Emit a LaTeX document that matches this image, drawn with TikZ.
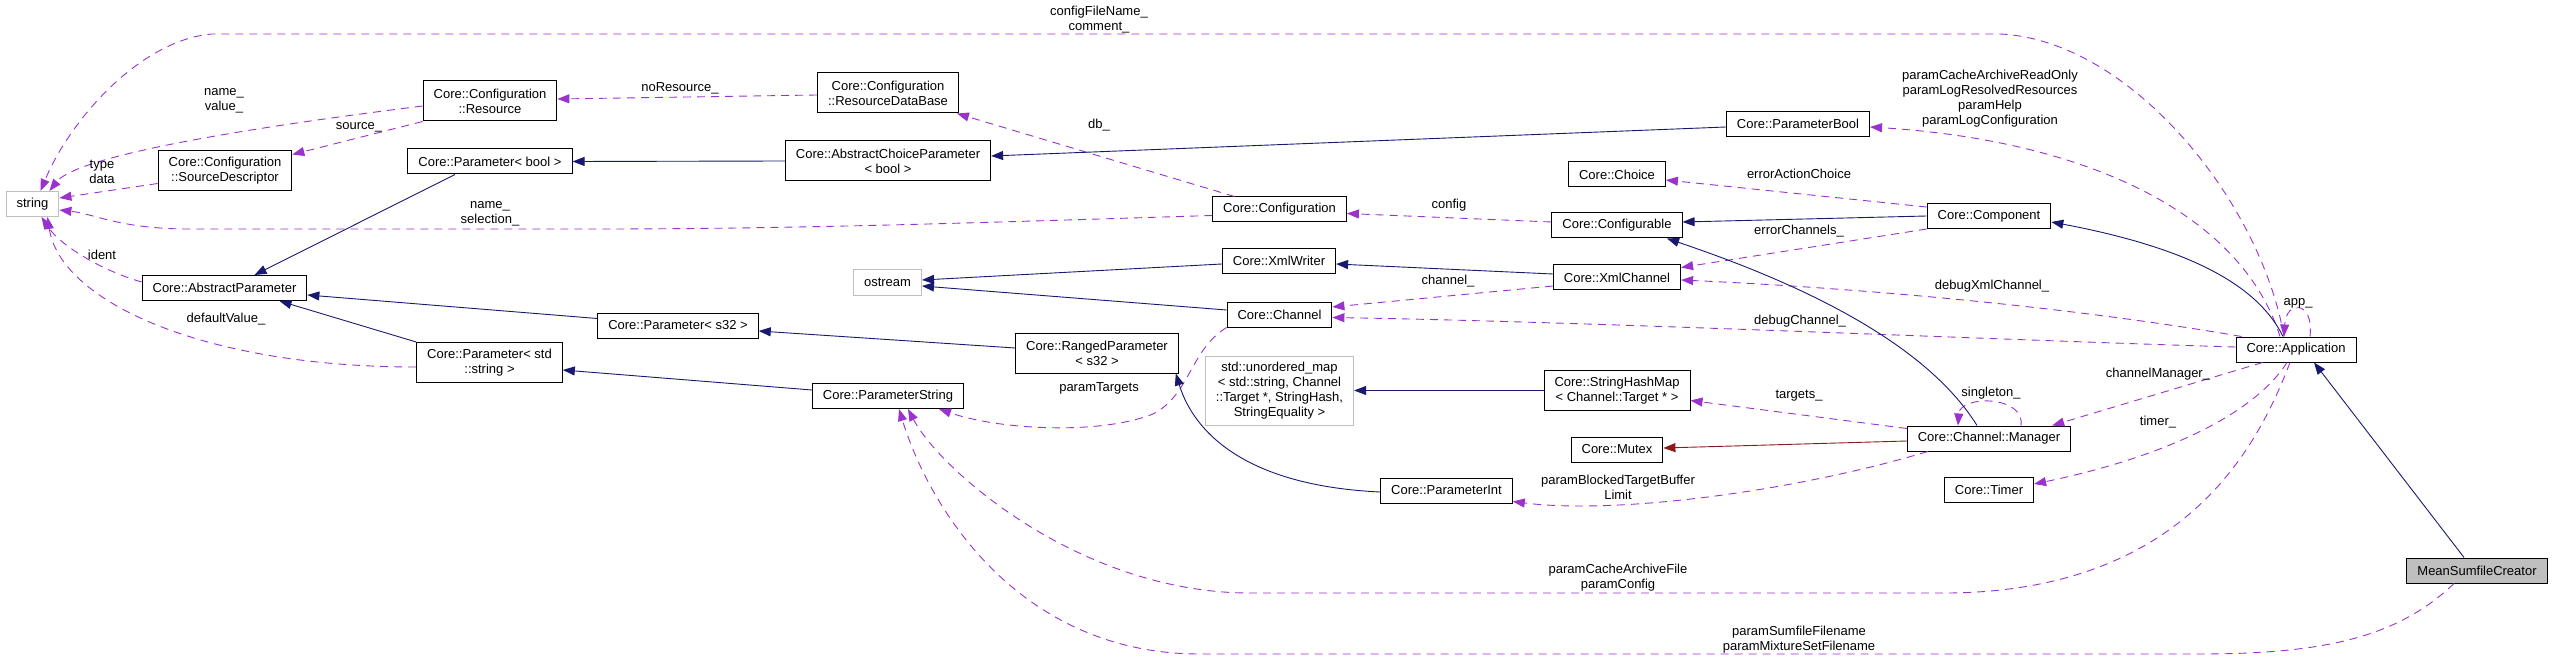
\documentclass[tikz,border=0pt]{standalone}
\usepackage{fontspec}
\usetikzlibrary{arrows.meta}
\newfontfamily\doxyfont{Liberation Sans}
\newcommand{\doxysize}{\doxyfont\fontsize{13}{15}\selectfont}
\definecolor{usecol}{HTML}{9A32CD}
\definecolor{inhcol}{HTML}{191970}
\definecolor{protcol}{HTML}{8B1A1A}
\definecolor{extcol}{HTML}{BFBFBF}

\begin{document}
\begin{tikzpicture}[x=1pt, y=-1pt,
  cls/.style={draw=black, line width=1pt, fill=white, font=\doxysize, align=center,
    inner xsep=10.5pt, inner ysep=2pt, minimum height=25pt},
  ext/.style={cls, draw=extcol},
  two/.style={minimum height=40pt},
  four/.style={minimum height=69pt},
  lbl/.style={font=\doxysize, align=center, inner sep=0pt},
  use/.style={draw=usecol, line width=0.9pt, dash pattern=on 8pt off 6pt,
    -{Triangle[length=12pt,width=9pt]}},
  inh/.style={draw=inhcol, line width=0.9pt, -{Triangle[length=12pt,width=9pt]}},
  prot/.style={inh, draw=protcol}]
  \useasboundingbox (0,0) rectangle (2553,660);

  \node[ext] (strg) at (32.5,204) {string};
  \node[cls,two] (cfgres) at (490,101) {Core::Configuration\\::Resource};
  \node[cls,two] (srcdesc) at (225,171) {Core::Configuration\\::SourceDescriptor};
  \node[cls] (parbool) at (490,161.5) {Core::Parameter< bool >};
  \node[cls] (absparam) at (224.5,288) {Core::AbstractParameter};
  \node[cls,two] (parstr) at (489.5,362.5) {Core::Parameter< std\\::string >};
  \node[cls,two] (resdb) at (888,93) {Core::Configuration\\::ResourceDataBase};
  \node[cls,two] (abschoice) at (888,161) {Core::AbstractChoiceParameter\\< bool >};
  \node[ext] (ostrm) at (887.5,282.5) {ostream};
  \node[cls] (pars32) at (678,325.5) {Core::Parameter< s32 >};
  \node[cls] (paramstring) at (888,396) {Core::ParameterString};
  \node[cls,two] (ranged) at (1097,353) {Core::RangedParameter\\< s32 >};
  \node[ext,four] (umap) at (1279.5,390.5) {std::unordered\_map\\< std::string, Channel\\::Target *, StringHash,\\StringEquality >};
  \node[cls] (config) at (1279.5,209.5) {Core::Configuration};
  \node[cls] (xmlwriter) at (1279,261) {Core::XmlWriter};
  \node[cls] (channel) at (1279.5,314.5) {Core::Channel};
  \node[cls] (paramint) at (1446.5,490.5) {Core::ParameterInt};
  \node[cls] (choice) at (1617,174.5) {Core::Choice};
  \node[cls] (configurable) at (1617,225.5) {Core::Configurable};
  \node[cls] (xmlchannel) at (1617,277.5) {Core::XmlChannel};
  \node[cls,two] (strhash) at (1617,390.5) {Core::StringHashMap\\< Channel::Target * >};
  \node[cls] (mutex) at (1617,449.5) {Core::Mutex};
  \node[cls] (parambool) at (1798,124) {Core::ParameterBool};
  \node[cls] (component) at (1989,216) {Core::Component};
  \node[cls] (manager) at (1989,438.5) {Core::Channel::Manager};
  \node[cls] (timer) at (1989,489.5) {Core::Timer};
  \node[cls] (app) at (2296,349.5) {Core::Application};
  \node[cls,fill=extcol] (mean) at (2477,570.5) {MeanSumfileCreator};

  \draw[use] ([xshift=-12pt]app.north) .. controls (2260,200) and (2130,40) .. (2000,34)
    -- (212,34) .. controls (140,40) and (70,120) .. ([xshift=8pt]strg.north);
  \draw[use] ([yshift=-5pt]cfgres.west) .. controls (150,140) and (70,165) .. ([xshift=-10pt]strg.north east);
  \draw[use] (cfgres.south west) -- ([yshift=-4pt]srcdesc.north east);
  \draw[use] ([yshift=8pt]srcdesc.south west) -- ([yshift=6pt]strg.east);
  \draw[use] ([yshift=-6pt]config.west) .. controls (1000,222) and (800,229) .. (600,229)
    -- (190,229) .. controls (120,229) and (95,214) .. ([yshift=-6pt]strg.east);
  \draw[use] ([yshift=6pt]absparam.west) .. controls (100,270) and (60,245) .. ([xshift=9pt]strg.south);
  \draw[use] ([yshift=-4.5pt]parstr.west) .. controls (200,367) and (60,300) .. ([xshift=15pt]strg.south);
  \draw[use] ([yshift=-2pt]resdb.west) -- ([yshift=2pt]cfgres.east);
  \draw[use] ([xshift=-45pt]config.north) -- ([xshift=-2pt]resdb.south east);
  \draw[use] (channel.south west) .. controls (1190,350) and (1190,395) .. (1153,414)
    .. controls (1100,435) and (1000,430) .. ([xshift=-25pt]paramstring.south east);
  \draw[use] ([yshift=3.5pt]configurable.west) -- ([yshift=-4pt]config.east);
  \draw[use] ([yshift=-4pt]component.north west) -- ([yshift=-5.5pt]choice.east);
  \draw[use] ([yshift=-8.5pt]xmlchannel.west) -- ([yshift=7.5pt]channel.east);
  \draw[use] (component.south west) -- ([yshift=-3pt]xmlchannel.north east);
  \draw[use] ([xshift=6pt]app.north west) .. controls (2100,312) and (1900,290) .. ([yshift=-2.5pt]xmlchannel.east);
  \draw[use] ([yshift=2.5pt]app.west) .. controls (2000,340) and (1600,322) .. ([yshift=-3pt]channel.east);
  \draw[use] ([yshift=-3pt]manager.north west) -- ([yshift=-10pt]strhash.east);
  \draw[use] ([xshift=21pt]manager.south west) .. controls (1800,490) and (1620,515) .. ([yshift=2pt]paramint.south east);
  \draw[use] ([xshift=32pt]manager.north) .. controls (2025,395) and (1960,395) .. ([xshift=-31pt]manager.north);
  \draw[use] ([xshift=-16pt]app.north) .. controls (2240,210) and (2080,140) .. ([yshift=-3pt]parambool.east);
  \draw[use] ([xshift=14pt]app.north) .. controls (2314,300) and (2286,300) .. ([xshift=-12pt]app.north);
  \draw[use] ([xshift=27pt]app.south west) -- ([xshift=-19pt]manager.north east);
  \draw[use] ([xshift=-9pt]app.south) .. controls (2250,420) and (2150,460) .. ([yshift=5.5pt]timer.east);
  \draw[use] ([xshift=-6pt]app.south) .. controls (2260,440) and (2190,590) .. (1950,593)
    -- (1250,593) .. controls (1080,593) and (940,470) .. ([xshift=20pt]paramstring.south);
  \draw[use] ([xshift=-23pt]mean.south) .. controls (2400,635) and (2330,654) .. (2200,654)
    -- (1200,654) .. controls (1020,654) and (930,510) .. ([xshift=11pt]paramstring.south);

  \draw[inh] ([xshift=-35pt]parbool.south) -- ([xshift=30pt]absparam.north);
  \draw[inh] ([yshift=7pt]pars32.west) -- ([yshift=-7pt]absparam.east);
  \draw[inh] (parstr.north west) -- ([xshift=55pt]absparam.south);
  \draw[inh] (abschoice.west) -- (parbool.east);
  \draw[inh] ([yshift=-3pt]parambool.west) -- ([yshift=5pt]abschoice.east);
  \draw[inh] ([yshift=5pt]ranged.west) -- ([yshift=-5.5pt]pars32.east);
  \draw[inh] ([yshift=6pt]paramstring.west) -- ([yshift=-7.5pt]parstr.east);
  \draw[inh] ([yshift=-3pt]xmlwriter.west) -- ([yshift=2.5pt]ostrm.east);
  \draw[inh] ([yshift=4.5pt]channel.west) -- ([yshift=-3.5pt]ostrm.east);
  \draw[inh] ([yshift=-1.5pt]paramint.west) .. controls (1230,485) and (1190,420) .. ([xshift=-3pt]ranged.south east);
  \draw[inh] (component.west) -- ([yshift=3.5pt]configurable.east);
  \draw[inh] ([yshift=3.5pt]xmlchannel.west) -- ([yshift=-3pt]xmlwriter.east);
  \draw[inh] ([xshift=-12pt]manager.north) .. controls (1930,350) and (1820,290) .. ([xshift=50pt]configurable.south);
  \draw[inh] (strhash.west) -- (umap.east);
  \draw[prot] ([yshift=-2.5pt]manager.west) -- ([yshift=1.5pt]mutex.east);
  \draw[inh] ([xshift=-13pt]app.north) .. controls (2260,290) and (2200,250) .. ([yshift=-6pt]component.east);
  \draw[inh] ([xshift=-13pt]mean.north) -- ([xshift=18pt]app.south);

  \node[lbl] (l-cfgfile) at (1099,19.5) {configFileName\_\\comment\_};
  \node[lbl] (l-namevalue) at (224,100.5) {name\_\\value\_};
  \node[lbl] (l-source) at (359,127) {source\_};
  \node[lbl] (l-typedata) at (102,172) {type\\data};
  \node[lbl] (l-namesel) at (490,214) {name\_\\selection\_};
  \node[lbl] (l-ident) at (102,255) {ident};
  \node[lbl] (l-default) at (226,319) {defaultValue\_};
  \node[lbl] (l-nores) at (680,88) {noResource\_};
  \node[lbl] (l-db) at (1099,125) {db\_};
  \node[lbl] (l-targets) at (1099,388) {paramTargets};
  \node[lbl] (l-config) at (1449,205) {config};
  \node[lbl] (l-erraction) at (1799,174) {errorActionChoice};
  \node[lbl] (l-channel) at (1448,281) {channel\_};
  \node[lbl] (l-errchan) at (1799,231) {errorChannels\_};
  \node[lbl] (l-dbgxml) at (1992,286) {debugXmlChannel\_};
  \node[lbl] (l-dbgchan) at (1800,321) {debugChannel\_};
  \node[lbl] (l-targ) at (1799,396) {targets\_};
  \node[lbl] (l-blocked) at (1618,487.5) {paramBlockedTargetBuffer\\Limit};
  \node[lbl] (l-single) at (1991,393) {singleton\_};
  \node[lbl] (l-parbool) at (1990,99) {paramCacheArchiveReadOnly\\paramLogResolvedResources\\paramHelp\\paramLogConfiguration};
  \node[lbl] (l-app) at (2298,303) {app\_};
  \node[lbl] (l-chanmgr) at (2158,374) {channelManager\_};
  \node[lbl] (l-timer) at (2158,422) {timer\_};
  \node[lbl] (l-cachefile) at (1618,578) {paramCacheArchiveFile\\paramConfig};
  \node[lbl] (l-sumfile) at (1799,639.5) {paramSumfileFilename\\paramMixtureSetFilename};
\end{tikzpicture}
\end{document}
